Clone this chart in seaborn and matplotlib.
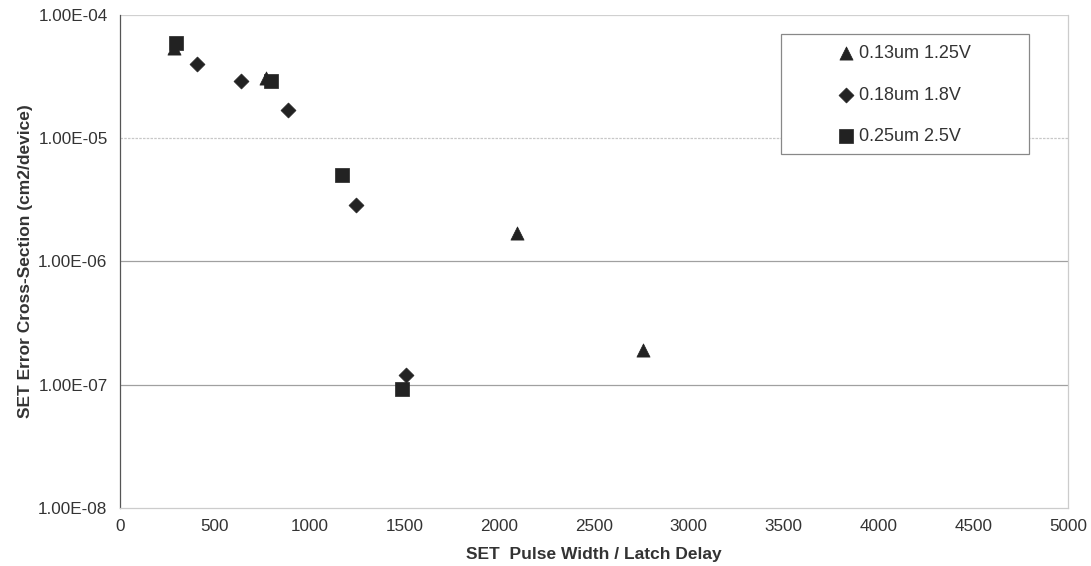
import numpy as np
import pandas as pd
import matplotlib
matplotlib.use("Agg")
import matplotlib.pyplot as plt
import matplotlib.ticker as mticker
from matplotlib.patches import Rectangle
import seaborn as sns

# SET error cross-section vs pulse width / latch delay
labels = ["0.13um 1.25V", "0.18um 1.8V", "0.25um 2.5V"]

x_013 = [285, 770, 2095, 2760]
y_013 = [5.4e-5, 3.1e-5, 1.7e-6, 1.9e-7]

x_018 = [405, 640, 885, 1245, 1510]
y_018 = [4.0e-5, 2.9e-5, 1.7e-5, 2.9e-6, 1.2e-7]

x_025 = [295, 795, 1170, 1485]
y_025 = [5.9e-5, 2.9e-5, 5.0e-6, 9.2e-8]

df = pd.concat([
    pd.DataFrame({"x": x_013, "y": y_013, "tech": labels[0]}),
    pd.DataFrame({"x": x_018, "y": y_018, "tech": labels[1]}),
    pd.DataFrame({"x": x_025, "y": y_025, "tech": labels[2]}),
])

sns.set_style("white")
plt.rcParams["font.family"] = ["Liberation Sans", "DejaVu Sans"]

W, H = 1091, 566
fig = plt.figure(figsize=(W / 100, H / 100), dpi=100)
ax = fig.add_axes([0.110, 0.1025, 0.869, 0.871])

markers = {labels[0]: "^", labels[1]: "D", labels[2]: "s"}
sizes = {labels[0]: 90, labels[1]: 58, labels[2]: 92}
for lab in labels:
    sub = df[df["tech"] == lab]
    sns.scatterplot(data=sub, x="x", y="y", marker=markers[lab], s=sizes[lab],
                    color="#222222", edgecolor="#222222", linewidth=0.5,
                    label=lab, ax=ax, zorder=3)

ax.set_yscale("log")
ax.set_xlim(0, 5000)
ax.set_ylim(1e-8, 1e-4)
ax.set_xticks(np.arange(0, 5001, 500))
ax.set_yticks([1e-8, 1e-7, 1e-6, 1e-5, 1e-4])
ax.yaxis.set_minor_locator(mticker.NullLocator())
ax.yaxis.set_major_formatter(mticker.FuncFormatter(lambda v, p: "{:.2E}".format(v)))

for v, c, ls in [(1e-4, "#d0d0d0", "-"), (1e-5, "#c8c8c8", (0, (2, 1))),
                 (1e-6, "#a0a0a0", "-"), (1e-7, "#a0a0a0", "-")]:
    ax.axhline(v, color=c, lw=0.9, ls=ls, zorder=1)

ax.spines["top"].set_visible(False)
ax.spines["right"].set_color("#cccccc")
ax.spines["bottom"].set_color("#cccccc")
ax.spines["left"].set_color("#555555")
for s in ax.spines.values():
    s.set_linewidth(0.9)

ax.tick_params(axis="both", labelsize=12.3, length=4, direction="out", width=0.8)
ax.tick_params(axis="x", colors="#aaaaaa", labelcolor="#333333", pad=4)
ax.tick_params(axis="y", colors="#555555", labelcolor="#333333", pad=5)

ax.set_xlabel("SET  Pulse Width / Latch Delay", fontsize=12.5, fontweight="bold",
              color="#333333", labelpad=9)
ax.set_ylabel("SET Error Cross-Section (cm2/device)", fontsize=12.5,
              fontweight="bold", color="#333333", labelpad=4)

# legend box drawn separately, entries centred inside it
box = Rectangle((781 / W, 1 - 154 / H), 248 / W, 120 / H, transform=fig.transFigure,
                facecolor="white", edgecolor="#888888", lw=0.9, zorder=4, clip_on=False)
ax.add_patch(box)
leg = ax.legend(loc="center", bbox_to_anchor=(905 / W, 1 - 95 / H),
                bbox_transform=fig.transFigure, frameon=False, fontsize=13,
                handletextpad=0.3, labelspacing=1.35, borderpad=0,
                handlelength=0.8)
leg.set_zorder(5)
for t in leg.get_texts():
    t.set_color("#333333")

fig.savefig("out.png", dpi=100)
